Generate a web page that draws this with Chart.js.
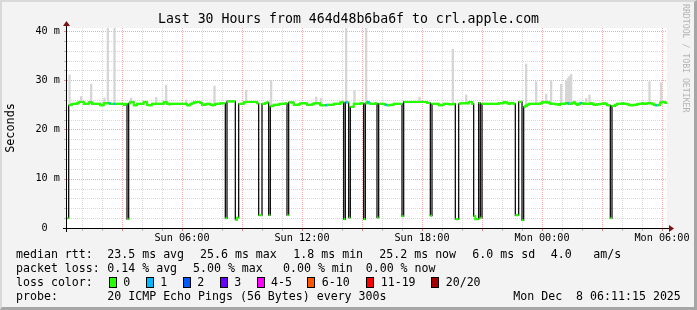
<!DOCTYPE html>
<html><head><meta charset="utf-8">
<script src="https://cdn.jsdelivr.net/npm/chart.js@4/dist/chart.umd.min.js"></script>
<style>
html,body{margin:0;padding:0;background:#f3f3f3;}
#wrap{position:relative;width:697px;height:310px;overflow:hidden;background:#f3f3f3;font-family:'DejaVu Sans Mono',monospace;color:#000;}
#frame{position:absolute;left:0;top:0;width:697px;height:310px;box-sizing:border-box;border-top:2px solid #d9d9d9;border-left:2px solid #d9d9d9;border-right:3px solid #a6a6a6;border-bottom:3px solid #a6a6a6;pointer-events:none;}
canvas{position:absolute;left:0;top:0;}
.t{position:absolute;white-space:pre;font-size:11.6px;line-height:14px;}
.box{position:absolute;box-sizing:border-box;width:8px;height:11px;border:1px solid #000;}
#title{position:absolute;left:0;top:11px;width:697px;text-align:center;font-size:13.2px;line-height:16px;white-space:pre;}
#ylab{position:absolute;left:-30px;top:121px;width:80px;text-align:center;font-size:11.8px;line-height:14px;transform:rotate(-90deg);}
#credit{position:absolute;left:681px;top:4px;writing-mode:vertical-rl;font-size:8.2px;color:#b4b4b4;white-space:pre;}
</style></head>
<body>
<div id="wrap">
<canvas id="c" width="697" height="310"></canvas>
<div id="title">Last 30 Hours from 464d48b6ba6f to crl.apple.com</div>
<div id="ylab">Seconds</div>
<div id="credit">RRDTOOL / TOBI OETIKER</div>
<div id="legend"></div>
<div id="frame"></div>
</div>
<script>
// ---- data (5-minute samples, median RTT in ms) ----
const median = [
 2.0,24.9,25.0,25.2,25.2,25.2,25.3,25.6,25.6,25.6,25.2,25.2,
 25.2,25.5,25.5,25.2,25.2,25.2,25.2,25.2,24.9,24.9,25.3,25.3,
 25.3,25.3,25.2,25.2,25.2,25.2,25.2,25.2,25.2,25.2,25.0,25.2,
 1.8,25.3,25.6,25.6,24.9,24.9,25.2,25.2,25.2,25.2,25.6,25.6,
 25.0,24.9,24.9,25.2,25.2,25.2,25.2,25.2,25.2,25.2,25.6,25.5,
 25.2,25.1,25.2,25.2,25.2,25.2,25.2,25.2,25.2,25.2,25.2,25.2,
 24.9,24.9,25.2,25.3,25.5,25.5,25.6,25.6,25.4,25.0,25.0,25.1,
 25.2,25.2,25.0,24.9,25.0,25.2,25.2,25.2,25.3,25.3,25.3,2.0,
 25.7,25.7,25.7,25.7,25.7,1.7,2.1,25.2,25.2,25.2,25.5,25.6,
 25.6,25.6,25.6,25.6,25.6,25.6,25.3,2.6,2.6,25.2,25.2,25.4,
 25.5,2.6,24.7,24.8,25.0,25.0,25.0,25.1,25.2,25.2,25.2,25.3,
 2.6,25.5,25.5,25.5,25.0,25.0,25.0,25.1,25.3,25.3,25.3,25.3,
 25.0,25.0,25.0,25.1,25.3,25.3,25.3,25.3,24.9,24.9,24.9,24.9,
 25.0,25.0,25.0,25.0,25.2,25.2,25.2,25.2,25.5,25.5,1.8,25.5,
 25.5,2.1,24.6,24.6,25.2,25.2,25.2,25.2,25.3,25.3,1.8,25.3,
 25.6,25.3,25.2,25.2,25.2,25.3,2.1,25.2,25.2,25.2,25.1,25.0,
 24.9,24.9,25.0,25.0,25.2,25.2,25.2,25.2,25.2,2.4,25.6,25.6,
 25.6,25.6,25.6,25.6,25.6,25.6,25.6,25.6,25.6,25.6,25.6,25.6,
 25.4,25.4,2.5,25.2,25.2,25.2,25.2,24.9,24.9,25.0,25.2,25.2,
 25.2,25.1,25.1,25.1,25.2,1.8,1.8,25.2,25.3,25.3,25.3,25.3,
 25.3,25.6,25.6,25.2,2.4,1.8,1.8,25.4,2.1,25.2,25.2,25.2,
 25.2,25.2,25.2,25.2,25.2,25.2,25.2,25.3,25.3,25.3,25.6,25.5,
 25.3,25.2,25.4,25.3,25.2,2.6,2.6,25.6,25.6,1.6,24.6,24.8,
 25.0,25.2,25.2,25.2,25.2,25.2,25.2,25.2,25.3,25.5,25.6,25.5,
 25.6,25.4,25.2,25.2,25.2,25.1,25.1,25.0,25.2,25.2,25.2,25.3,
 25.3,25.2,25.2,25.4,25.5,25.2,25.0,25.2,25.4,25.3,25.2,25.2,
 25.2,25.2,25.3,25.2,25.0,25.0,25.1,25.1,25.2,25.2,25.3,25.2,
 24.9,24.9,2.0,24.8,24.8,25.0,25.2,25.2,25.2,25.3,25.2,25.2,
 25.1,25.0,24.9,24.9,25.0,25.0,25.1,25.2,25.2,25.3,25.2,25.2,
 25.3,25.3,25.3,25.2,25.0,24.9,24.9,25.0,25.5,25.6,25.6,25.4
];
// samples that lost 1 of 20 pings
const lossOneIdx = [25,28,155,167,180,191,300,308,353];
// smoke: highest ping of a sample (ms)
const spikeIdx = [1,8,14,22,24,28,38,53,59,71,88,107,122,149,152,167,172,179,211,231,239,275,281,287,290,296,299,300,301,302,311,313,349,356];
const spikeTop = [31.1,26.7,29.2,26.4,40.8,40.8,26.4,26.5,29.0,26.0,28.8,28.0,30.0,26.6,26.3,40.8,27.9,40.8,26.6,36.3,27.0,33.3,29.7,27.2,29.9,29.2,29.8,30.4,30.8,31.2,26.3,27.0,29.7,29.5];
// axis ticks
const xTickValues = [6,12,18,24,30];           // hours since Sun 00:00
const xTickLabels = ['Sun 06:00','Sun 12:00','Sun 18:00','Mon 00:00','Mon 06:00'];
const yTickValues = [0,10,20,30,40];
const yTickLabels = ['0  ','10 m','20 m','30 m','40 m'];
// loss legend
const lossLabels = ['0','1','2','3','4-5','6-10','11-19','20/20'];
const lossColors = ['#26ff00','#00b8ff','#0059ff','#6a00ff','#ff00ff','#ff5500','#ff0000','#a10000'];

const START_H = 0.25, STEP_H = 5/60;
const tOf = i => START_H + (i + 0.5) * STEP_H;
const lossOf = i => lossOneIdx.includes(i) ? 1 : 0;
const pts = median.map((v,i)=>({x:tOf(i), y:v}));
const ptColors = median.map((v,i)=>lossColors[lossOf(i)]);
const spikes = spikeIdx.map((i,k)=>({x:tOf(i), y:[median[i], spikeTop[k]]}));

const MAJ = '#f5aaaa', MIN = '#d9d9d9';
const decor = {
  id:'decor',
  beforeDraw(chart){
    const {ctx, chartArea:a} = chart;
    ctx.save(); ctx.fillStyle='#ffffff'; ctx.fillRect(a.left,a.top,a.right-a.left,a.bottom-a.top); ctx.restore();
  },
  beforeDatasetsDraw(chart){
    const {ctx, chartArea:a, scales:{x,y}} = chart;
    ctx.save();
    ctx.fillStyle='#ffffff'; ctx.fillRect(a.left,a.top,a.right-a.left,a.bottom-a.top);
    ctx.lineWidth=1; ctx.setLineDash([1,1]);
    const ln=(x1,y1,x2,y2)=>{ctx.beginPath();ctx.moveTo(x1,y1);ctx.lineTo(x2,y2);ctx.stroke();};
    for(let v=2; v<=40; v+=2){
      const py=Math.round(y.getPixelForValue(v))+0.5;
      ctx.strokeStyle = v%10===0?MAJ:MIN; ln(a.left,py,a.right,py);
    }
    for(let h=1; h<=30; h++){
      const px=Math.round(x.getPixelForValue(h))+0.5;
      ctx.strokeStyle = h%3===0?MAJ:MIN; ln(px,a.top,px,a.bottom);
    }
    ctx.restore();
  },
  afterDatasetsDraw(chart){
    const {ctx, chartArea:a, scales:{x,y}} = chart;
    ctx.save();
    ctx.setLineDash([]); ctx.lineWidth=1;
    const ln=(x1,y1,x2,y2)=>{ctx.beginPath();ctx.moveTo(x1,y1);ctx.lineTo(x2,y2);ctx.stroke();};
    for(let h=1; h<=30; h++){
      const px=Math.round(x.getPixelForValue(h))+0.5;
      ctx.strokeStyle = h%3===0?'#e88':'#bbb'; ln(px,a.bottom,px,a.bottom+3);
    }
    for(let v=2; v<=40; v+=2){
      const py=Math.round(y.getPixelForValue(v))+0.5;
      ctx.strokeStyle = v%10===0?'#e88':'#bbb'; ln(a.left-3,py,a.left,py);
    }
    ctx.strokeStyle='#000';
    const ax=a.left-0.5, ay=a.bottom+0.5;
    ln(a.left-4,ay,a.right+4,ay);
    ln(ax,a.bottom+4,ax,a.top-4);
    ctx.fillStyle='#7a1414';
    ctx.beginPath(); ctx.moveTo(ax-3.5,a.top-2); ctx.lineTo(ax+3.5,a.top-2); ctx.lineTo(ax,a.top-7); ctx.closePath(); ctx.fill();
    ctx.beginPath(); ctx.moveTo(a.right+2,ay-3.5); ctx.lineTo(a.right+2,ay+3.5); ctx.lineTo(a.right+7,ay); ctx.closePath(); ctx.fill();
    ctx.restore();
  }
};

new Chart(document.getElementById('c'), {
  type:'line',
  data:{datasets:[
    {type:'line', data:pts, showLine:false, pointStyle:'line', pointRadius:0.9, pointBorderWidth:2,
     pointBorderColor:ptColors, pointBackgroundColor:ptColors, order:0},
    {type:'line', data:pts, stepped:'middle', borderWidth:2, pointRadius:0, order:1,
     segment:{borderColor:c=>Math.abs(c.p0.parsed.y-c.p1.parsed.y)>5?'rgba(0,0,0,0)':lossColors[lossOf(c.p0DataIndex)]}},
    {type:'line', data:pts, stepped:'middle', borderWidth:1.3, borderColor:'#111', pointRadius:0, order:2},
    {type:'bar', data:spikes, backgroundColor:'#d5d5d5', borderWidth:0, barThickness:1.6, order:3}
  ]},
  options:{
    responsive:false, animation:false, devicePixelRatio:1, events:[],
    layout:{padding:{left:0, top:28, right:30, bottom:62}},
    plugins:{legend:{display:false}, tooltip:{enabled:false}, title:{display:false}},
    scales:{
      x:{type:'linear', min:0.25, max:30.25, offset:false,
         grid:{display:false, drawTicks:false}, border:{display:false},
         afterBuildTicks:s=>{s.ticks = xTickValues.map(v=>({value:v}));},
         afterFit:s=>{s.height=20;},
         ticks:{autoSkip:false, maxRotation:0, padding:4, color:'#000',
                font:{family:'DejaVu Sans Mono', size:10.2},
                callback:(v,i)=>xTickLabels[i]}},
      y:{type:'linear', min:0, max:40.6,
         grid:{display:false, drawTicks:false}, border:{display:false},
         afterBuildTicks:s=>{s.ticks = yTickValues.map(v=>({value:v}));},
         afterFit:s=>{s.width=67;},
         ticks:{padding:7, color:'#000', font:{family:'DejaVu Sans Mono', size:10.2},
                callback:(v,i)=>yTickLabels[i]}}
    }
  },
  plugins:[decor]
});

// ---- legend text ----
const L = document.getElementById('legend');
function put(x, y, s){ const d=document.createElement('div'); d.className='t'; d.style.left=x+'px'; d.style.top=(y-7)+'px'; d.textContent=s; L.appendChild(d); }
const r1=254, r2=268, r3=282, r4=296;
put(16,r1,'median rtt:'); put(107.3,r1,'23.5 ms avg'); put(200,r1,'25.6 ms max'); put(293.3,r1,'1.8 ms min');
put(379.3,r1,'25.2 ms now'); put(472.3,r1,'6.0 ms sd'); put(550.7,r1,'4.0'); put(593.3,r1,'am/s');
put(16,r2,'packet loss:'); put(107.3,r2,'0.14 % avg'); put(193,r2,'5.00 % max'); put(283,r2,'0.00 % min'); put(365.7,r2,'0.00 % now');
put(16,r3,'loss color:');
const boxX=[108.7,145.7,182.7,219.7,256.7,307.3,365.7,430.7];
const labX=[123.3,160.3,197.3,234.3,271,321.7,380.7,445.7];
lossLabels.forEach((lab,k)=>{
  const b=document.createElement('div'); b.className='box'; b.style.left=Math.round(boxX[k])+'px'; b.style.top=(r3-5)+'px'; b.style.background=lossColors[k]; L.appendChild(b);
  put(labX[k], r3, lab);
});
put(16,r4,'probe:'); put(107.3,r4,'20 ICMP Echo Pings (56 Bytes) every 300s'); put(513.3,r4,'Mon Dec  8 06:11:15 2025');
</script>
</body></html>
